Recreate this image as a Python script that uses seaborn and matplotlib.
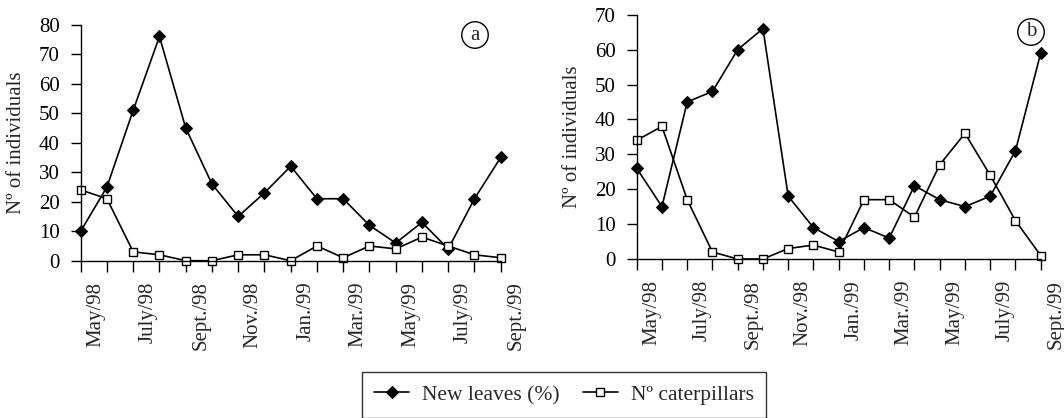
import matplotlib
matplotlib.use("Agg")
import matplotlib.pyplot as plt
import numpy as np
import pandas as pd
import seaborn as sns

MONTHS = ["May/98", "June/98", "July/98", "Aug./98", "Sept./98", "Oct./98", "Nov./98", "Dec./98",
          "Jan./99", "Feb./99", "Mar./99", "Apr./99", "May/99", "June/99", "July/99", "Aug./99", "Sept./99"]

LEAVES_A = [10, 25, 51, 76, 45, 26, 15, 23, 32, 21, 21, 12, 6, 13, 4, 21, 35]
CATERPILLARS_A = [24, 21, 3, 2, 0, 0, 2, 2, 0, 5, 1, 5, 4, 8, 5, 2, 1]

LEAVES_B = [26, 15, 45, 48, 60, 66, 18, 9, 5, 9, 6, 21, 17, 15, 18, 31, 59]
CATERPILLARS_B = [34, 38, 17, 2, 0, 0, 3, 4, 2, 17, 17, 12, 27, 36, 24, 11, 1]

sns.set_theme(style="ticks")
plt.rcParams["font.family"] = ["Liberation Serif", "DejaVu Serif"]

W, H = 1064, 418
fig = plt.figure(figsize=(W / 100, H / 100), dpi=100)


def px_axes(left, top, right, bottom):
    return fig.add_axes([left / W, 1 - bottom / H, (right - left) / W, (bottom - top) / H])


def draw_panel(ax, leaves, cats, ymax, letter, letter_xy):
    df = pd.DataFrame({"idx": np.arange(len(MONTHS)), "leaves": leaves, "cats": cats})
    sns.lineplot(data=df, x="idx", y="leaves", ax=ax, color="black", linewidth=1.2,
                 marker="D", markersize=6, markerfacecolor="black", markeredgecolor="black",
                 label="New leaves (%)", clip_on=False, legend=False)
    sns.lineplot(data=df, x="idx", y="cats", ax=ax, color="black", linewidth=1.2,
                 marker="s", markersize=5.5, markerfacecolor="white", markeredgecolor="black",
                 markeredgewidth=1.0, label="Nº caterpillars", clip_on=False, legend=False)
    ax.set_xlim(0, len(MONTHS) - 1)
    ax.set_ylim(0, ymax)
    ax.set_yticks(np.arange(0, ymax + 1, 10))
    ax.set_xticks(np.arange(len(MONTHS)))
    ax.set_xticklabels([])
    # month labels every second tick, set a little right of the tick as in the original
    for i, m in enumerate(MONTHS):
        if i % 2 == 0:
            ax.annotate(m, xy=(i, 0), xycoords=("data", "axes fraction"), xytext=(4, -15),
                        textcoords="offset points", rotation=90, ha="left", va="top",
                        fontsize=15, annotation_clip=False)
    ax.tick_params(axis="x", direction="out", length=8, width=1.0, colors="black")
    ax.tick_params(axis="y", direction="out", length=7, width=1.0, pad=8, labelsize=15, colors="black")
    ax.set_xlabel("")
    ax.set_ylabel("Nº of individuals", fontsize=15, labelpad=9)
    sns.despine(ax=ax)
    for sp in ("left", "bottom"):
        ax.spines[sp].set_linewidth(1.0)
        ax.spines[sp].set_color("black")
    fig.text(letter_xy[0] / W, 1 - letter_xy[1] / H, letter, fontsize=15, ha="center", va="center",
             bbox=dict(boxstyle="circle,pad=0.18", fc="white", ec="black", lw=1.0))


ax_a = px_axes(80.7, 24.7, 500.7, 260.7)
draw_panel(ax_a, LEAVES_A, CATERPILLARS_A, 80, "a", (475, 35))

ax_b = px_axes(636.7, 14.7, 1040.7, 259)
draw_panel(ax_b, LEAVES_B, CATERPILLARS_B, 70, "b", (1031, 32))

handles, labels = ax_a.get_legend_handles_labels()
leg = fig.legend(handles, labels, loc="upper center", bbox_to_anchor=(564 / W, 1 - 372 / H),
                 ncol=2, frameon=True, fancybox=False, fontsize=15.5, borderpad=0.6,
                 handlelength=1.6, handletextpad=0.6, columnspacing=1.1, borderaxespad=0)
leg.get_frame().set_edgecolor("black")
leg.get_frame().set_linewidth(1.0)

fig.savefig("out.png", dpi=100)
